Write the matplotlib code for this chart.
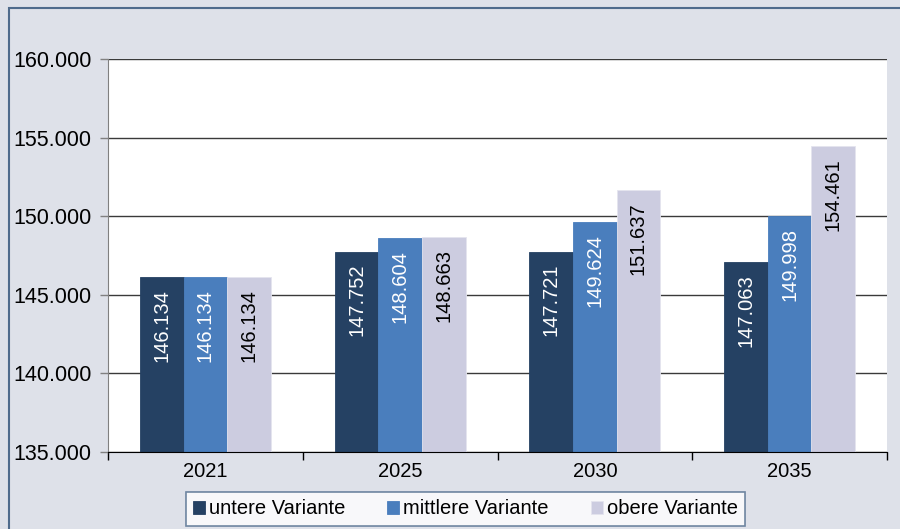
import matplotlib.pyplot as plt
import matplotlib.patches as mpatches
from matplotlib.ticker import FuncFormatter, FixedLocator
import numpy as np

plt.rcParams['font.family'] = ['Liberation Sans', 'DejaVu Sans']

# %% data
years = ['2021', '2025', '2030', '2035']
untere = [146134, 147752, 147721, 147063]
mittlere = [146134, 148604, 149624, 149998]
obere = [146134, 148663, 151637, 154461]
series_names = ['untere Variante', 'mittlere Variante', 'obere Variante']
colors = ['#254163', '#4a7ebd', '#cccce0']
label_colors = ['white', 'white', 'black']


def fmt_de(v, pos=None):
    return f"{v:,.0f}".replace(',', '.')


# %% plot
fig = plt.figure(figsize=(9, 5.29), dpi=100)
fig.patch.set_facecolor('#dee1e9')
# outer frame of the chart object
fig.add_artist(mpatches.Rectangle((9 / 900, -0.05), 1.0, 1 - 8 / 529 + 0.05,
                                  transform=fig.transFigure, fill=False,
                                  edgecolor='#4f6b8c', linewidth=1.5))

ax = fig.add_axes([108 / 900, 1 - 452 / 529, (887 - 108) / 900, (452 - 59) / 529])
ax.set_facecolor('white')

x = np.arange(len(years))
w = 0.224
for i, vals in enumerate([untere, mittlere, obere]):
    pos = x + (i - 1) * w
    bars = ax.bar(pos, vals, width=w, color=colors[i], label=series_names[i],
                  zorder=3, edgecolor='#e4e4ee' if i == 2 else colors[i],
                  linewidth=0.6)
    for xi, v in zip(pos, vals):
        ax.annotate(fmt_de(v), (xi, v), xytext=(0, -8.5), textcoords='offset points',
                    rotation=90, ha='center', va='top', fontsize=14.5,
                    color=label_colors[i], zorder=4)

ax.set_ylim(135000, 160000)
ax.set_xlim(-0.5, len(years) - 0.5)
ax.yaxis.set_major_locator(FixedLocator(np.arange(135000, 160001, 5000)))
ax.yaxis.set_major_formatter(FuncFormatter(fmt_de))
ax.grid(axis='y', color='#3a3a3a', linewidth=1, zorder=0)

ax.set_xticks(x)
ax.set_xticklabels(years)
ax.set_xticks(np.arange(-0.5, len(years)), minor=True)
ax.tick_params(axis='x', which='major', length=0, labelsize=14.5, pad=7)
ax.tick_params(axis='x', which='minor', length=6, color='black', width=1)
ax.tick_params(axis='y', length=6, color='#808080', width=1, labelsize=15.5, pad=6)

for s in ['top', 'right']:
    ax.spines[s].set_visible(False)
ax.spines['left'].set_color('#808080')
ax.spines['bottom'].set_color('black')
ax.spines['bottom'].set_zorder(5)

leg = fig.legend(loc='center', bbox_to_anchor=(465.5 / 900, 1 - 509 / 529),
                 ncol=3, fontsize=14.5, frameon=True, fancybox=False,
                 edgecolor='#4f6b8c', handlelength=0.6, handleheight=0.6,
                 handletextpad=0.2, columnspacing=2.1, borderpad=0.35)
leg.get_frame().set_linewidth(1.2)

fig.savefig('out.png', dpi=100, facecolor=fig.get_facecolor())
